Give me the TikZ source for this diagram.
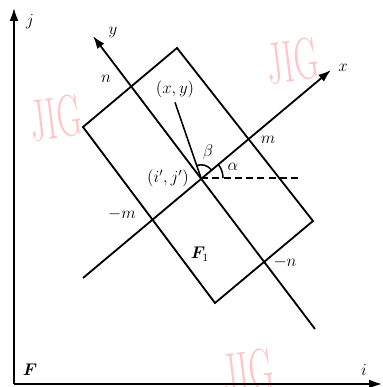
\documentclass[tikz,border=0pt]{standalone}
\usepackage{amsmath, amssymb}
\usepackage{bm}
\usepackage{xcolor}
\usetikzlibrary{arrows.meta,calc}
\definecolor{jigpink}{RGB}{255,196,196}

\begin{document}
\begin{tikzpicture}[
    x=0.025cm,
    y=0.025cm,
    >={Latex[length=3.2mm,width=2.2mm]},
    font=\fontsize{12}{14}\selectfont,
    axis/.style={->, line width=1.3pt},
    frame/.style={line width=1.3pt},
    wmark/.style={font=\fontsize{42}{42}\selectfont, text=jigpink,
        rotate=7, xscale=0.57, inner sep=0pt}
]

\useasboundingbox (0,0) rectangle (382,387);

% Watermarks
\node[wmark] (jig1) at (56,269) {JIG};
\node[wmark] (jig2) at (293,326) {JIG};
\node[wmark] (jig3) at (248,15) {JIG};

% Image axes
\coordinate (F0) at (14,3);
\coordinate (jtip) at (14,379);
\coordinate (itip) at (382,3);

\draw[axis] (F0) -- (jtip);
\draw[axis] (F0) -- (itip);

% Rectangle F1
\coordinate (rtop) at (177,339);
\coordinate (rright) at (313,166);
\coordinate (rbottom) at (215,84);
\coordinate (rleft) at (83,260);

\draw[frame] (rtop) -- (rright) -- (rbottom) -- (rleft) -- cycle;

% Local axes
\coordinate (O) at (201,209);
\coordinate (xstart) at (83,109);
\coordinate (xtip) at (331,317);
\coordinate (ystart) at (315,58);
\coordinate (ytip) at (93,351);

\draw[axis] (xstart) -- (xtip);
\draw[axis] (ystart) -- (ytip);

% Horizontal reference
\coordinate (hend) at (301,209);
\draw[line width=1.1pt, dash pattern=on 5pt off 3pt] (O) -- (hend);

% Labels
\node (jlab) at (30,365) {$j$};
\node (ilab) at (364,17) {$i$};
\node (Flab) at (30,17) {$\bm{F}$};
\node (xlab) at (343,319) {$x$};
\node (ylab) at (113,354) {$y$};
\node (nlab) at (106,308) {$n$};
\node (mlab) at (268,247) {$m$};
\node (mmlab) at (122,173) {$-m$};
\node (mnlab) at (285,125) {$-n$};
\node (F1lab) at (200,133) {$\bm{F}_1$};
\node (Olab) at (168,209) {$(i',j')$};
\node (xylab) at (175,298) {$(x,y)$};
\node (blab) at (208,235) {$\beta$};
\node (alab) at (233,220) {$\alpha$};

% Point direction and angles
\draw[line width=1.1pt] (O) -- (xylab.south);
\draw[line width=1.1pt] ($(O)+(40:0.33cm)$) arc[start angle=40, end angle=110, radius=0.33cm];
\draw[line width=1.1pt] ($(O)+(0:0.55cm)$) arc[start angle=0, end angle=40, radius=0.55cm];

\end{tikzpicture}
\end{document}
